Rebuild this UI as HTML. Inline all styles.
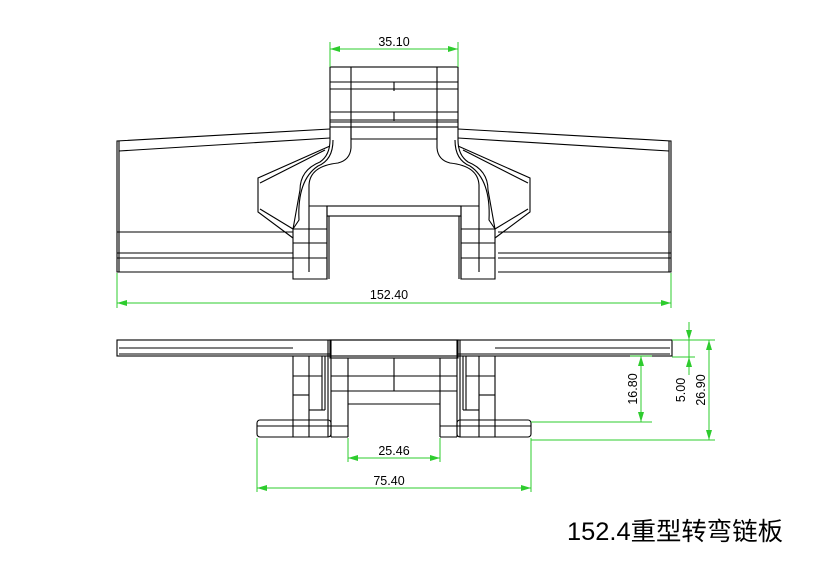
<!DOCTYPE html>
<html><head><meta charset="utf-8"><style>
html,body{margin:0;padding:0;background:#fff;}
svg{display:block}
</style></head><body>
<svg width="819" height="579" viewBox="0 0 819 579" xmlns="http://www.w3.org/2000/svg">
<defs>
<marker id="a" viewBox="0 0 10 6" refX="10" refY="3" markerWidth="10" markerHeight="6" orient="auto-start-reverse" markerUnits="userSpaceOnUse"><path d="M0,0L10,3L0,6z" fill="#2ecc2e"/></marker>
</defs>
<g fill="none" stroke="#000" stroke-width="1.1">
<rect x="330" y="67" width="128" height="60"/>
<line x1="351" y1="67" x2="351" y2="139"/><line x1="437" y1="67" x2="437" y2="139"/>
<line x1="330" y1="82" x2="458" y2="82"/><line x1="330" y1="89" x2="458" y2="89"/>
<line x1="330" y1="112" x2="458" y2="112"/><line x1="330" y1="120" x2="458" y2="120"/><line x1="330" y1="122" x2="458" y2="122"/>
<line x1="394" y1="82" x2="394" y2="91"/><line x1="394" y1="112" x2="394" y2="121"/>
<line x1="351" y1="139" x2="437" y2="139"/>
<path d="M330,129 L117,141 L117,272 L293,272"/>
<path d="M458,129 L671,141 L671,272 L498,272"/>
<line x1="119" y1="151" x2="330" y2="138"/><line x1="669" y1="151" x2="458" y2="138"/>
<line x1="119" y1="141" x2="119" y2="272"/><line x1="669" y1="141" x2="669" y2="272"/>
<line x1="117" y1="232" x2="293" y2="232"/><line x1="117" y1="253" x2="293" y2="253"/><line x1="117" y1="258" x2="293" y2="258"/>
<line x1="498" y1="232" x2="671" y2="232"/><line x1="498" y1="253" x2="671" y2="253"/><line x1="498" y1="258" x2="671" y2="258"/>
<path d="M330,127 L330,140 Q330,155 320,162 Q300,170 300,190 L293,229 L293,279 L327,279 L327,206"/>
<path d="M351,127 L351,148 Q350,160 338,163 Q310,166 309,185 L309,206 L327,206"/>
<path d="M333,140 Q333,160 318,166 Q297,180 299,220 L293,229"/>
<line x1="309" y1="206" x2="309" y2="272"/>
<line x1="293" y1="229" x2="327" y2="229"/><line x1="293" y1="243" x2="327" y2="243"/><line x1="293" y1="258" x2="327" y2="258"/>
<path d="M330,146 L258,178 L258,212 L293,238"/>
<path d="M325,150 L260,183"/><path d="M260,209 L293,229"/>
<path d="M458,127 L458,140 Q458,155 468,162 Q488,170 488,190 L495,229 L495,279 L461,279 L461,206"/>
<path d="M437,127 L437,148 Q438,160 450,163 Q478,166 479,185 L479,206 L461,206"/>
<path d="M455,140 Q455,160 470,166 Q491,180 489,220 L495,229"/>
<line x1="479" y1="206" x2="479" y2="272"/>
<line x1="461" y1="229" x2="495" y2="229"/><line x1="461" y1="243" x2="495" y2="243"/><line x1="461" y1="258" x2="495" y2="258"/>
<path d="M458,146 L530,178 L530,212 L495,238"/>
<path d="M463,150 L528,183"/><path d="M528,209 L495,229"/>
<rect x="327" y="206" width="134" height="10"/>
<line x1="327" y1="216" x2="327" y2="279"/><line x1="461" y1="216" x2="461" y2="279"/>
<line x1="329" y1="216" x2="329" y2="279"/><line x1="459" y1="216" x2="459" y2="279"/>

<rect x="117" y="340" width="555" height="16"/>
<line x1="119" y1="348" x2="293" y2="348"/><line x1="495" y1="348" x2="670" y2="348"/>
<line x1="119" y1="354" x2="330" y2="354"/><line x1="458" y1="354" x2="670" y2="354"/>
<rect x="330" y="340" width="128" height="18"/>
<line x1="328" y1="340" x2="328" y2="437"/><line x1="331" y1="340" x2="331" y2="437"/>
<line x1="457" y1="340" x2="457" y2="437"/><line x1="460" y1="340" x2="460" y2="437"/>
<path d="M293,356 L293,420"/><line x1="309" y1="356" x2="309" y2="420"/><line x1="322" y1="356" x2="322" y2="410"/><line x1="325" y1="356" x2="325" y2="410"/>
<line x1="293" y1="376" x2="322" y2="376"/><line x1="293" y1="395" x2="309" y2="395"/><line x1="309" y1="410" x2="325" y2="410"/>
<rect x="257" y="420" width="74" height="17" rx="3"/>
<line x1="257" y1="426" x2="331" y2="426"/><line x1="293" y1="420" x2="293" y2="437"/><line x1="309" y1="420" x2="309" y2="437"/>
<path d="M495,356 L495,420"/><line x1="479" y1="356" x2="479" y2="420"/><line x1="466" y1="356" x2="466" y2="410"/><line x1="463" y1="356" x2="463" y2="410"/>
<line x1="466" y1="376" x2="495" y2="376"/><line x1="479" y1="395" x2="495" y2="395"/><line x1="463" y1="410" x2="479" y2="410"/>
<rect x="457" y="420" width="74" height="17" rx="3"/>
<line x1="457" y1="426" x2="531" y2="426"/><line x1="495" y1="420" x2="495" y2="437"/><line x1="479" y1="420" x2="479" y2="437"/>
<line x1="348" y1="358" x2="348" y2="437"/><line x1="440" y1="358" x2="440" y2="437"/>
<line x1="331" y1="376" x2="457" y2="376"/><line x1="331" y1="391" x2="457" y2="391"/><line x1="348" y1="404" x2="440" y2="404"/>
<line x1="394" y1="358" x2="394" y2="391"/>
<line x1="331" y1="426" x2="348" y2="426"/><line x1="440" y1="426" x2="457" y2="426"/>
<line x1="331" y1="437" x2="348" y2="437"/><line x1="440" y1="437" x2="457" y2="437"/>
</g>

<g stroke="#2ecc2e" stroke-width="1" fill="none">
<line x1="330" y1="42" x2="330" y2="67"/><line x1="458" y1="42" x2="458" y2="67"/>
<line x1="330" y1="49" x2="458" y2="49" marker-start="url(#a)" marker-end="url(#a)"/>
<line x1="117" y1="273" x2="117" y2="308"/><line x1="671" y1="273" x2="671" y2="308"/>
<line x1="117" y1="303" x2="671" y2="303" marker-start="url(#a)" marker-end="url(#a)"/>
<line x1="348" y1="438" x2="348" y2="462"/><line x1="440" y1="438" x2="440" y2="462"/>
<line x1="348" y1="458" x2="440" y2="458" marker-start="url(#a)" marker-end="url(#a)"/>
<line x1="257" y1="438" x2="257" y2="492"/><line x1="531" y1="438" x2="531" y2="492"/>
<line x1="257" y1="488" x2="531" y2="488" marker-start="url(#a)" marker-end="url(#a)"/>
<line x1="630" y1="356" x2="652" y2="356"/><line x1="531" y1="422" x2="652" y2="422"/>
<line x1="641" y1="356" x2="641" y2="422" marker-start="url(#a)" marker-end="url(#a)"/>
<line x1="672" y1="340" x2="715" y2="340"/><line x1="672" y1="357" x2="695" y2="357"/><line x1="531" y1="440" x2="715" y2="440"/>
<line x1="689" y1="322" x2="689" y2="340" marker-end="url(#a)"/>
<line x1="689" y1="375" x2="689" y2="357" marker-end="url(#a)"/>
<line x1="689" y1="340" x2="689" y2="357"/>
<line x1="709" y1="340" x2="709" y2="440" marker-start="url(#a)" marker-end="url(#a)"/>
</g>
<g font-family="Liberation Sans, sans-serif" font-size="12.5" fill="#000">
<text x="394" y="46" text-anchor="middle">35.10</text>
<text x="389" y="299" text-anchor="middle">152.40</text>
<text x="394" y="455" text-anchor="middle">25.46</text>
<text x="389" y="485" text-anchor="middle">75.40</text>
<text transform="translate(637,389) rotate(-90)" text-anchor="middle">16.80</text>
<text transform="translate(685,390) rotate(-90)" text-anchor="middle">5.00</text>
<text transform="translate(705,390) rotate(-90)" text-anchor="middle">26.90</text>
</g>
<text x="567" y="540" font-family="Liberation Sans, 'Noto Sans CJK SC', sans-serif" font-size="25" textLength="216" lengthAdjust="spacingAndGlyphs" fill="#000">152.4重型转弯链板</text>
</svg>
</body></html>
